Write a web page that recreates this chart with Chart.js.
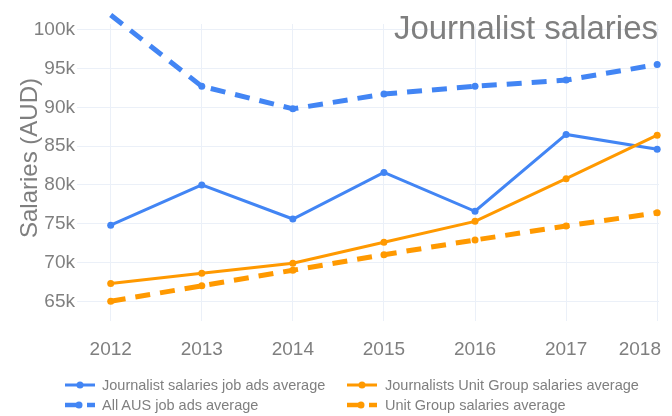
<!DOCTYPE html>
<html>
<head>
<meta charset="utf-8">
<script src="https://cdn.jsdelivr.net/npm/chart.js@4/dist/chart.umd.min.js"></script>
<style>
  html, body { margin: 0; padding: 0; background: #fff; }
  #wrap { position: relative; width: 672px; height: 416px; }
  #salaryChart { position: absolute; left: 0; top: 0; }
  .leg { position: absolute; font: 14.5px "Liberation Sans", Arial, sans-serif; color: #7f7f7f; white-space: nowrap; line-height: 16px; }
  .leg svg { position: absolute; top: 3px; }
  .leg span { position: absolute; }
</style>
</head>
<body>
<div id="wrap">
  <canvas id="salaryChart" width="672" height="416"></canvas>
  <div id="legend"></div>
</div>
<script>
// du lieu doc tu hinh
const years = [2012, 2013, 2014, 2015, 2016, 2017, 2018];
const journalistJobAds = [74800, 80000, 75600, 81600, 76600, 86500, 84600];
const journalistUnitGroup = [67300, 68600, 69900, 72600, 75300, 80800, 86400];
const allAusJobAds = [101900, 92700, 89800, 91700, 92700, 93500, 95500];
const unitGroupAll = [65000, 67000, 69000, 71000, 72900, 74700, 76400];
const yTicks = [65000, 70000, 75000, 80000, 85000, 90000, 95000, 100000];

const BLUE = "#4285F4";
const ORANGE = "#FF9900";
const GREY = "#7f7f7f";
const FONT = '"Liberation Sans", Arial, sans-serif';

function pts(vals) {
  return years.map((yr, i) => ({ x: yr, y: vals[i] }));
}

const series = [
  { label: "Journalist salaries job ads average", data: journalistJobAds, color: BLUE, dashed: false },
  { label: "Journalists Unit Group salaries average", data: journalistUnitGroup, color: ORANGE, dashed: false },
  { label: "All AUS job ads average", data: allAusJobAds, color: BLUE, dashed: true },
  { label: "Unit Group salaries average", data: unitGroupAll, color: ORANGE, dashed: true }
];

// ve title, ten truc y va nhan nam
const textPlugin = {
  id: "texts",
  afterDraw(chart) {
    const c = chart.ctx;
    const xs = chart.scales.x;
    c.save();
    c.fillStyle = GREY;

    c.font = "33px " + FONT;
    c.textAlign = "right";
    c.textBaseline = "alphabetic";
    c.fillText("Journalist salaries", 658, 39);

    c.font = "19px " + FONT;
    c.textAlign = "center";
    years.forEach(yr => {
      const w = c.measureText(String(yr)).width;
      let x = xs.getPixelForValue(yr);
      x = Math.min(x, 661 - w / 2);
      c.fillText(String(yr), x, 355);
    });

    c.translate(37, 158);
    c.rotate(-Math.PI / 2);
    c.font = "24px " + FONT;
    c.textAlign = "center";
    c.fillText("Salaries (AUD)", 0, 0);
    c.restore();
  }
};

new Chart(document.getElementById("salaryChart"), {
  type: "line",
  data: {
    datasets: series.map((s, i) => ({
      label: s.label,
      data: pts(s.data),
      borderColor: s.color,
      backgroundColor: s.color,
      borderWidth: s.dashed ? 5 : 3,
      borderDash: s.dashed ? [15, 10] : [],
      pointRadius: 3.5,
      pointBorderWidth: 0,
      pointBackgroundColor: s.color,
      tension: 0,
      fill: false,
      clip: false,
      order: 4 - i
    }))
  },
  options: {
    responsive: false,
    animation: false,
    events: [],
    layout: { padding: { left: 0, right: 13, top: 24, bottom: 0 } },
    plugins: {
      legend: { display: false },
      tooltip: { enabled: false }
    },
    scales: {
      x: {
        type: "linear",
        min: 2011.63,
        max: 2018.02,
        border: { display: false },
        grid: { color: "#EBF0F8", lineWidth: 1, drawTicks: false },
        ticks: { display: false },
        afterBuildTicks: s => { s.ticks = years.map(v => ({ value: v })); },
        afterFit: s => { s.height = 95; }
      },
      y: {
        min: 62460,
        max: 100730,
        border: { display: false },
        grid: { color: "#EBF0F8", lineWidth: 1, drawTicks: false },
        ticks: {
          color: GREY,
          padding: 2,
          font: { family: FONT, size: 19 },
          callback: v => (v / 1000) + "k"
        },
        afterBuildTicks: s => { s.ticks = yTicks.map(v => ({ value: v })); },
        afterFit: s => { s.width = 77; }
      }
    }
  },
  plugins: [textPlugin]
});

// legend html, 2 cot
const legendPos = [
  { left: 64, top: 377 },
  { left: 346, top: 377 },
  { left: 64, top: 397 },
  { left: 346, top: 397 }
];
const legend = document.getElementById("legend");
series.forEach((s, i) => {
  const p = legendPos[i];
  const icon = s.dashed
    ? `<svg width="32" height="10"><line x1="1" y1="5" x2="17" y2="5" stroke="${s.color}" stroke-width="4.5"/><circle cx="15" cy="5" r="3.5" fill="${s.color}"/><line x1="23" y1="5" x2="31" y2="5" stroke="${s.color}" stroke-width="4.5"/></svg>`
    : `<svg width="32" height="10"><line x1="1" y1="5" x2="31" y2="5" stroke="${s.color}" stroke-width="3"/><circle cx="16" cy="5" r="3.5" fill="${s.color}"/></svg>`;
  const div = document.createElement("div");
  div.className = "leg";
  div.style.left = p.left + "px";
  div.style.top = p.top + "px";
  div.innerHTML = icon + `<span style="left:${i % 2 ? 39 : 38}px">${s.label}</span>`;
  legend.appendChild(div);
});
</script>
</body>
</html>
